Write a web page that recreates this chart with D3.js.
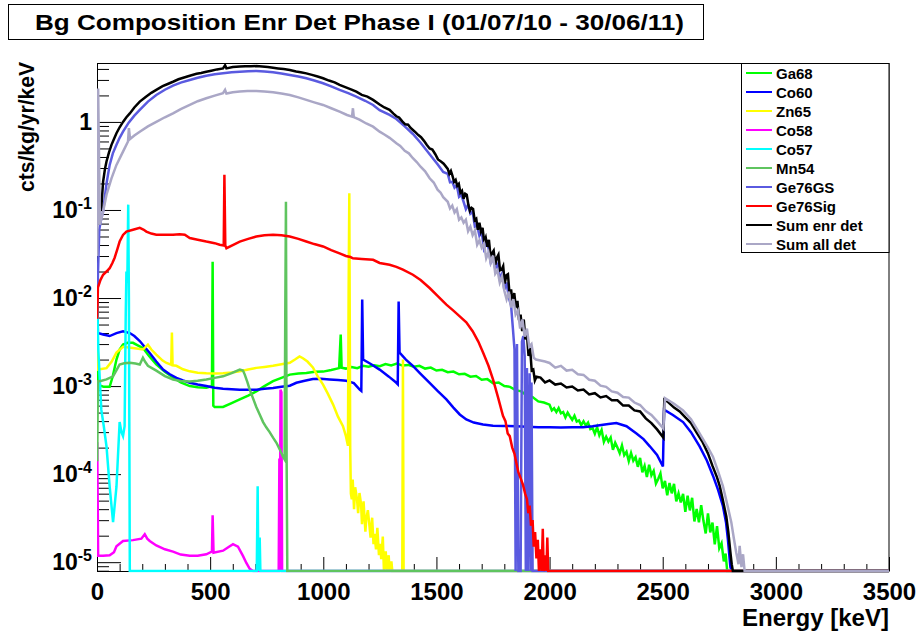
<!DOCTYPE html>
<html><head><meta charset="utf-8">
<script src="https://cdn.jsdelivr.net/npm/d3@7"></script>
<style>
html,body{margin:0;padding:0;background:#fff;}
svg text{font-family:"Liberation Sans",Arial,Helvetica,sans-serif;font-weight:bold;fill:#000;}
</style></head><body>
<svg id="chart" width="917" height="636"></svg>
<script>
// Spectra: [energy keV, cts/kg/yr/keV]; 0 means empty bin (drawn on the lower frame edge)
const ga68 = [[1,0.004],[4,0.00105],[12,0.00102],[30,0.00098],[56,0.00098],[70,0.0013],[86,0.002],[100,0.0026],[115,0.00296],[135,0.0031],[159,0.0031],[180,0.0029],[203,0.0027],[230,0.0022],[262,0.00176],[300,0.00145],[336,0.00125],[370,0.0011],[410,0.001],[445,0.00097],[483,0.00096],[508,0.001],[511,0.0259],[514,0.0006],[520,0.00058],[557,0.00058],[595,0.00064],[631,0.000705],[668,0.00078],[704,0.00087],[740,0.001],[778,0.00114],[815,0.00124],[852,0.00135],[890,0.00139],[925,0.00141],[962,0.00145],[999,0.00146],[1035,0.00152],[1070,0.0016],[1077,0.00385],[1081,0.00162],[1100,0.00158],[1125,0.00165],[1150,0.0016],[1175,0.0017],[1200,0.00166],[1225,0.00172],[1250,0.00168],[1275,0.00178],[1300,0.00172],[1325,0.0018],[1350,0.00171],[1375,0.00174],[1400,0.00166],[1425,0.0017],[1450,0.00158],[1475,0.00162],[1500,0.0015],[1525,0.00153],[1550,0.00144],[1575,0.00146],[1600,0.00136],[1625,0.00138],[1650,0.00128],[1675,0.0013],[1700,0.00118],[1725,0.0012],[1750,0.00108],[1775,0.0011],[1800,0.001],[1825,0.00098],[1850,0.0009],[1875,0.00087],[1900,0.00078],[1925,0.00075],[1950,0.00067],[1975,0.00065],[2000,0.000615],[2010,0.00053],[2020,0.00056],[2030,0.000507],[2040,0.000562],[2050,0.000491],[2060,0.000507],[2070,0.000441],[2080,0.000499],[2090,0.000453],[2100,0.000414],[2110,0.00046],[2120,0.000396],[2130,0.000408],[2140,0.000361],[2150,0.000399],[2160,0.000357],[2170,0.000385],[2180,0.000325],[2190,0.000334],[2200,0.000288],[2210,0.000342],[2220,0.000276],[2230,0.000317],[2240,0.000233],[2250,0.000266],[2260,0.000234],[2270,0.00026],[2280,0.000189],[2290,0.000227],[2300,0.0002],[2310,0.000173],[2320,0.000212],[2330,0.000164],[2340,0.000179],[2350,0.000141],[2360,0.000174],[2370,0.000142],[2380,0.000156],[2390,0.000121],[2400,0.000153],[2410,0.000105],[2420,0.000124],[2430,0.0000927],[2440,0.000128],[2450,0.0000969],[2460,0.000109],[2470,0.0000781],[2480,0.000088],[2490,0.000102],[2500,0.0000688],[2510,0.0000836],[2520,0.0000576],[2530,0.0000794],[2540,0.0000605],[2550,0.0000775],[2560,0.000049],[2570,0.0000605],[2580,0.0000477],[2590,0.0000596],[2600,0.0000374],[2610,0.0000569],[2620,0.0000387],[2630,0.0000539],[2640,0.000029],[2650,0.0000403],[2660,0.0000284],[2670,0.0000443],[2680,0.0000295],[2690,0.0000212],[2700,0.0000358],[2710,0.0000218],[2720,0.0000282],[2730,0.0000159],[2740,0.0000256],[2750,0.0000144],[2760,0.0000164],[2770,0.0000102],[2778,0.0000125],[2785,0],[3500,0]];

const co60 = [[1,0.012],[4,0.004],[27,0.00385],[56,0.0037],[86,0.004],[115,0.00418],[145,0.004],[165,0.0037],[189,0.00325],[210,0.0028],[233,0.00238],[262,0.0019],[292,0.00154],[320,0.00137],[351,0.00124],[380,0.00116],[410,0.00109],[445,0.00104],[483,0.001],[520,0.00096],[557,0.00093],[595,0.00092],[631,0.00091],[668,0.00091],[704,0.00091],[740,0.00093],[778,0.00095],[815,0.00098],[852,0.00101],[881,0.00109],[918,0.00115],[954,0.0012],[990,0.00121],[1028,0.00119],[1065,0.00117],[1102,0.00115],[1135,0.00108],[1161,0.00091],[1168,0.00088],[1172,0.0096],[1176,0.002],[1210,0.00178],[1249,0.00154],[1290,0.00128],[1323,0.00109],[1329,0.00105],[1333,0.0091],[1337,0.0024],[1365,0.002],[1396,0.0017],[1430,0.00138],[1470,0.00109],[1505,0.00088],[1544,0.000705],[1575,0.00057],[1603,0.000476],[1632,0.000418],[1665,0.000385],[1706,0.000367],[1750,0.000355],[1800,0.000352],[1853,0.00035],[1900,0.000345],[1950,0.00034],[2000,0.00034],[2050,0.000338],[2100,0.00034],[2148,0.00034],[2190,0.00035],[2221,0.00036],[2260,0.00037],[2295,0.00038],[2340,0.00035],[2384,0.00029],[2415,0.00025],[2443,0.000207],[2475,0.000165],[2501,0.000122],[2506,0.00054],[2545,0.00047],[2590,0.00039],[2625,0.0003],[2663,0.000207],[2695,0.000143],[2722,0.000096],[2745,0.000066],[2766,0.0000435],[2780,0.000028],[2788,0.0000182],[2799,0.0000088],[2805,0],[3500,0]];

const zn65 = [[1,0.003],[4,0.00154],[42,0.0016],[65,0.0019],[86,0.0024],[115,0.0028],[159,0.0027],[203,0.0026],[225,0.00296],[240,0.0026],[262,0.00228],[290,0.00195],[307,0.00183],[328,0.00175],[331,0.00405],[334,0.00172],[351,0.0017],[380,0.00155],[410,0.00147],[445,0.00142],[483,0.0014],[520,0.00139],[557,0.0014],[595,0.00143],[631,0.00147],[668,0.00154],[704,0.00161],[740,0.00165],[778,0.0017],[815,0.00177],[852,0.00184],[875,0.002],[895,0.00217],[910,0.00207],[930,0.0019],[954,0.00163],[975,0.0013],[999,0.00104],[1020,0.00082],[1043,0.00062],[1065,0.00045],[1087,0.00035],[1100,0.00027],[1109,0.00021],[1112,0.0125],[1115,0.155],[1119,0.0002],[1122,0.00006],[1126,0.0000518],[1130,0.0000866],[1136,0.0000399],[1141,0.000071],[1149,0.000052],[1154,0.000036],[1160,0.000061],[1167,0.0000455],[1171,0.000027],[1178,0.000049],[1186,0.0000222],[1190,0.000031],[1197,0.000039],[1204,0.000026],[1209,0.000019],[1216,0.000032],[1222,0.000016],[1226,0.000021],[1233,0.000014],[1239,0.0000245],[1246,0.000012],[1252,0.0000162],[1256,0.0000108],[1263,0.0000195],[1268,0],[1276,0.0000133],[1281,0],[1289,0.000012],[1293,0],[1301,0.0000102],[1305,0],[1349,0],[1352,0.002],[1355,0],[3500,0]];

const co58 = [[1,0.00023],[5,0.0000118],[27,0.0000118],[56,0.000012],[75,0.000013],[86,0.0000152],[115,0.0000174],[159,0.0000178],[196,0.0000185],[211,0.0000208],[222,0.0000185],[233,0.0000174],[262,0.0000155],[300,0.000014],[336,0.0000132],[370,0.0000122],[410,0.0000118],[445,0.0000118],[483,0.0000123],[508,0.0000132],[511,0.0000342],[515,0.0000128],[557,0.0000135],[580,0.0000148],[601,0.000016],[623,0.000015],[645,0.0000118],[660,0.0000098],[675,0.0000084],[690,0],[803,0],[806,0.00015],[808,0],[811,0.00091],[815,0.00085],[818,0],[3500,0]];

const co57 = [[1,0.0095],[6,0.0025],[19,0.00054],[30,0.00035],[42,0.000206],[56,0.000072],[71,0.0000285],[86,0.000072],[100,0.00039],[108,0.0003],[115,0.00027],[122,0.00035],[127,0.0065],[130,0.02],[134,0.015],[138,0.115],[141,0.01],[145,0],[706,0],[710,0.000073],[713,0],[719,0.000019],[722,0],[3500,0]];

const mn54 = [[1,0.00014],[4,0.00113],[20,0.00115],[42,0.00119],[71,0.00129],[85,0.0015],[100,0.00176],[120,0.00182],[145,0.00184],[170,0.0018],[189,0.00176],[203,0.0021],[212,0.0019],[225,0.0017],[262,0.0015],[300,0.0013],[336,0.00119],[370,0.00114],[410,0.00113],[445,0.00115],[483,0.00119],[520,0.00124],[557,0.00129],[595,0.0014],[631,0.00154],[645,0.0015],[653,0.00135],[665,0.0011],[675,0.00091],[690,0.00072],[704,0.00058],[720,0.00047],[734,0.00039],[748,0.00034],[763,0.0003],[778,0.00026],[793,0.000227],[808,0.00019],[822,0.000158],[829,0.000147],[832,0.0065],[835,0.124],[838,0.00015],[841,0],[3500,0]];

const ge76GS = [[2,0.012],[10,0.06],[19,0.08],[27,0.096],[42,0.2],[56,0.325],[70,0.44],[86,0.549],[100,0.66],[115,0.776],[140,0.98],[165,1.18],[189,1.37],[225,1.7],[262,2.02],[300,2.32],[336,2.58],[370,2.8],[410,2.99],[445,3.18],[483,3.35],[520,3.48],[557,3.57],[595,3.66],[631,3.72],[668,3.76],[704,3.79],[740,3.74],[778,3.66],[815,3.55],[852,3.41],[890,3.28],[925,3.13],[960,2.95],[999,2.75],[1035,2.53],[1072,2.31],[1110,2.12],[1146,1.94],[1185,1.74],[1220,1.56],[1249,1.36],[1293,1.2],[1323,1.08],[1360,0.89],[1396,0.73],[1430,0.58],[1470,0.43],[1505,0.33],[1530,0.27],[1550,0.257],[1560,0.206],[1570,0.209],[1580,0.179],[1590,0.191],[1600,0.141],[1610,0.149],[1620,0.124],[1630,0.102],[1640,0.115],[1650,0.0906],[1660,0.0954],[1670,0.0645],[1680,0.0662],[1690,0.0509],[1700,0.0566],[1710,0.0363],[1720,0.0414],[1730,0.0373],[1740,0.0252],[1750,0.0287],[1760,0.0215],[1770,0.0252],[1780,0.0166],[1790,0.0189],[1800,0.0125],[1810,0.015],[1820,0.0101],[1830,0.0082],[1838,0.0045],[1845,0.0026],[1850,0],[1856,0.003],[1862,0],[1872,0],[1878,0.0032],[1884,0.0037],[1890,0.0022],[1895,0],[1900,0.0016],[1905,0],[1912,0.0014],[1917,0],[1920,0.0011],[1925,0],[3500,0]];

const ge76Sig = [[1,0.0058],[4,0.0131],[15,0.016],[27,0.0184],[42,0.02],[56,0.0218],[68,0.025],[78,0.0287],[90,0.036],[100,0.0438],[115,0.052],[130,0.0569],[159,0.0597],[189,0.0626],[205,0.06],[218,0.0569],[240,0.054],[262,0.0524],[300,0.0524],[336,0.0524],[365,0.053],[388,0.0524],[410,0.048],[445,0.046],[483,0.0438],[520,0.042],[542,0.0403],[560,0.0395],[563,0.251],[567,0.0395],[572,0.0368],[600,0.04],[631,0.0438],[668,0.047],[704,0.05],[740,0.0515],[778,0.0524],[815,0.0515],[852,0.05],[890,0.047],[925,0.0438],[960,0.041],[999,0.0385],[1035,0.035],[1072,0.0321],[1100,0.03],[1120,0.0292],[1131,0.0283],[1170,0.0278],[1220,0.0272],[1249,0.025],[1293,0.0239],[1323,0.0226],[1352,0.021],[1396,0.0184],[1430,0.016],[1470,0.013],[1505,0.0106],[1544,0.0084],[1575,0.0072],[1603,0.0062],[1632,0.0053],[1660,0.0042],[1685,0.0032],[1706,0.0024],[1730,0.0017],[1750,0.00119],[1772,0.00075],[1794,0.00046],[1805,0.0004],[1815,0.00029],[1824,0.00027],[1835,0.0002],[1845,0.00017],[1853,0.000135],[1862,0.000105],[1872,0.00009],[1883,0.000075],[1892,0.00006],[1900,0.000052],[1906,0.000036],[1912,0.000044],[1918,0.000026],[1925,0.00003],[1930,0.000015],[1936,0.000022],[1942,0.000011],[1948,0.000018],[1953,0],[1960,0.000014],[1965,0],[1970,0.000024],[1974,0],[1982,0.000012],[1986,0],[1990,0.000019],[1994,0],[3500,0]];

const sumEnr = [[3,0.085],[12,0.095],[19,0.106],[27,0.21],[35,0.29],[42,0.355],[53,0.45],[64,0.549],[75,0.64],[86,0.744],[100,0.87],[115,1],[130,1.13],[145,1.25],[165,1.46],[189,1.7],[215,1.92],[240,2.14],[262,2.31],[290,2.55],[310,2.68],[336,2.86],[360,3.05],[385,3.2],[410,3.35],[440,3.52],[460,3.6],[483,3.72],[505,3.82],[530,3.95],[557,4.05],[566,4.4],[572,4.06],[600,4.2],[631,4.25],[655,4.3],[680,4.28],[704,4.31],[730,4.25],[755,4.2],[778,4.12],[800,4.05],[825,3.98],[852,3.89],[880,3.74],[900,3.66],[925,3.56],[950,3.42],[975,3.28],[999,3.13],[1025,2.95],[1050,2.82],[1072,2.63],[1100,2.47],[1125,2.33],[1146,2.21],[1170,2.03],[1195,1.94],[1220,1.78],[1249,1.58],[1270,1.46],[1293,1.37],[1310,1.24],[1323,1.16],[1335,1.12],[1350,1.01],[1362,0.94],[1375,0.93],[1385,0.86],[1396,0.81],[1408,0.76],[1420,0.71],[1432,0.67],[1445,0.61],[1457,0.55],[1470,0.5],[1482,0.485],[1495,0.43],[1507,0.375],[1520,0.355],[1532,0.335],[1550,0.293],[1557,0.257],[1564,0.278],[1571,0.244],[1578,0.209],[1585,0.22],[1592,0.188],[1599,0.198],[1606,0.157],[1613,0.165],[1620,0.134],[1627,0.153],[1634,0.149],[1641,0.115],[1648,0.098],[1655,0.106],[1662,0.103],[1669,0.0764],[1676,0.0794],[1683,0.0597],[1690,0.0716],[1697,0.0566],[1704,0.0628],[1711,0.0431],[1718,0.0484],[1725,0.0383],[1732,0.0459],[1739,0.0299],[1746,0.0323],[1753,0.0345],[1760,0.0239],[1767,0.0287],[1774,0.031],[1781,0.0207],[1788,0.021],[1795,0.023],[1802,0.0146],[1809,0.0182],[1816,0.0187],[1823,0.0112],[1830,0.0125],[1837,0.0084],[1844,0.0114],[1851,0.0078],[1858,0.0093],[1865,0.0056],[1872,0.0065],[1879,0.0042],[1886,0.0057],[1893,0.0034],[1900,0.0039],[1907,0.0022],[1914,0.0027],[1921,0.0015],[1928,0.00154],[1935,0.00116],[1942,0.00128],[1960,0.00125],[1980,0.0011],[2000,0.00116],[2025,0.00104],[2050,0.00107],[2075,0.000964],[2100,0.00099],[2125,0.00089],[2150,0.000915],[2175,0.000803],[2200,0.00083],[2225,0.000743],[2250,0.00077],[2275,0.00069],[2300,0.00069],[2325,0.0006],[2350,0.0006],[2375,0.00053],[2400,0.000515],[2425,0.00043],[2450,0.00038],[2475,0.000322],[2503,0.00026],[2507,0.0007],[2520,0.00067],[2550,0.00057],[2575,0.000515],[2600,0.00044],[2625,0.00038],[2650,0.000297],[2675,0.000235],[2700,0.000172],[2720,0.000124],[2740,0.000092],[2752,0.000073],[2765,0.0000518],[2781,0.000033],[2790,0.0000219],[2799,0.000013],[2805,0.0000095],[2810,0],[3500,0]];

const sumAll = [[1,0.03],[5,2.4],[13,0.068],[27,0.096],[42,0.149],[64,0.229],[86,0.325],[115,0.46],[137,0.6],[141,0.85],[146,0.64],[165,0.7],[189,0.775],[225,0.89],[262,1],[300,1.13],[336,1.25],[370,1.4],[410,1.56],[445,1.72],[483,1.86],[520,1.99],[557,2.12],[566,2.31],[572,2.1],[600,2.17],[631,2.21],[665,2.24],[704,2.25],[740,2.22],[778,2.17],[815,2.1],[852,2.02],[890,1.9],[925,1.78],[960,1.67],[999,1.56],[1035,1.43],[1072,1.31],[1105,1.2],[1127,1.15],[1131,1.43],[1135,1.13],[1160,1.06],[1190,0.96],[1220,0.884],[1249,0.776],[1270,0.72],[1293,0.66],[1323,0.573],[1340,0.535],[1360,0.47],[1378,0.44],[1396,0.387],[1413,0.35],[1430,0.31],[1450,0.275],[1470,0.229],[1488,0.205],[1505,0.17],[1518,0.158],[1530,0.14],[1550,0.124],[1560,0.104],[1570,0.112],[1580,0.0935],[1590,0.102],[1600,0.0774],[1610,0.0824],[1620,0.0716],[1630,0.0774],[1640,0.0575],[1650,0.0645],[1660,0.0518],[1670,0.0584],[1680,0.0403],[1690,0.0452],[1700,0.0373],[1710,0.0414],[1720,0.0283],[1730,0.033],[1740,0.0252],[1750,0.0303],[1760,0.0189],[1770,0.0207],[1780,0.015],[1790,0.0175],[1800,0.0121],[1810,0.0097],[1820,0.0118],[1830,0.0078],[1840,0.0097],[1850,0.0065],[1860,0.0072],[1870,0.0045],[1880,0.0057],[1890,0.00365],[1900,0.0045],[1910,0.0028],[1920,0.003],[1930,0.0021],[1940,0.002],[1960,0.00195],[1980,0.0019],[2000,0.00183],[2025,0.00162],[2050,0.0017],[2075,0.0015],[2100,0.00153],[2125,0.00136],[2150,0.00134],[2175,0.00118],[2200,0.00115],[2225,0.00101],[2250,0.00098],[2275,0.00087],[2300,0.00084],[2325,0.00075],[2350,0.00074],[2375,0.00065],[2400,0.00061],[2425,0.00052],[2450,0.00047],[2475,0.0004],[2503,0.00033],[2510,0.00073],[2550,0.00063],[2590,0.00053],[2625,0.00042],[2663,0.00029],[2700,0.0002],[2722,0.000158],[2745,0.000107],[2766,0.000073],[2785,0.0000455],[2803,0.0000285],[2815,0.0000182],[2825,0.0000128],[2835,0.0000095],[2840,0.0000153],[2848,0.0000088],[2855,0.0000123],[2862,0],[3500,0]];

const seriesNames = ["Ga68","Co60","Zn65","Co58","Co57","Mn54","Ge76GS","Ge76Sig","Sum enr det","Sum all det"];
const seriesData = [ga68, co60, zn65, co58, co57, mn54, ge76GS, ge76Sig, sumEnr, sumAll];
const seriesColors = ["#00ff00","#0000ff","#ffff00","#ff00ff","#00ffff","#5fc45f","#5a5ae0","#ff0000","#000000","#aaa7c6"];

const xTickValues = [0,500,1000,1500,2000,2500,3000,3500];
const yTickValues = [1e-5,1e-4,1e-3,1e-2,1e-1,1];
const titleText = "Bg Composition Enr Det Phase I (01/07/10 - 30/06/11)";
const xTitle = "Energy [keV]";
const yTitle = "cts/kg/yr/keV";

// ---- layout ----
const W = 917, H = 636;
const plot = {left: 97, right: 889, top: 63, bottom: 571};
const yMin = 7.94e-6, yMax = 4.67;

const x = d3.scaleLinear().domain([0, 3500]).range([plot.left, plot.right]);
const y = d3.scaleLog().domain([yMin, yMax]).range([plot.bottom, plot.top]);

const svg = d3.select("#chart");
svg.append("rect").attr("width", W).attr("height", H).attr("fill", "#fff");

// title pave
svg.append("rect").attr("x", 8.5).attr("y", 4.5).attr("width", 695).attr("height", 35)
  .attr("fill", "#fff").attr("stroke", "#000").attr("stroke-width", 1);
svg.append("text").attr("x", 35).attr("y", 30).attr("font-size", 22.5)
  .attr("textLength", 649).attr("lengthAdjust", "spacingAndGlyphs").text(titleText);

// frame
svg.append("rect").attr("x", plot.left + 0.5).attr("y", plot.top + 0.5)
  .attr("width", plot.right - plot.left - 0.5).attr("height", plot.bottom - plot.top)
  .attr("fill", "#fff").attr("stroke", "#000").attr("stroke-width", 1);

// x axis: major ticks with labels, minor ticks every 100 keV
const xMinor = d3.range(100, 3500, 100).filter(v => v % 500 !== 0);
const gxMinor = svg.append("g").attr("transform", `translate(0,${plot.bottom})`)
  .call(d3.axisBottom(x).tickValues(xMinor).tickSize(-7).tickFormat(""));
const gx = svg.append("g").attr("transform", `translate(0,${plot.bottom})`)
  .call(d3.axisBottom(x).tickValues(xTickValues).tickSize(-14).tickPadding(12).tickFormat(d3.format("d")));
[gx, gxMinor].forEach(g => { g.select(".domain").remove(); g.selectAll("line").attr("stroke", "#000"); });
gx.attr("font-size", 24).attr("font-family", null);

// y axis (log): decades labelled as powers of ten, minor ticks 2..9
const yMinor = [];
for (let e = -6; e <= 0; e++) for (let k = 2; k <= 9; k++) {
  const v = k * Math.pow(10, e);
  if (v > yMin && v < yMax) yMinor.push(v);
}
const gyMinor = svg.append("g").attr("transform", `translate(${plot.left},0)`)
  .call(d3.axisLeft(y).tickValues(yMinor).tickSize(-12).tickFormat(""));
const gy = svg.append("g").attr("transform", `translate(${plot.left},0)`)
  .call(d3.axisLeft(y).tickValues(yTickValues).tickSize(-24).tickPadding(5).tickFormat(""));
[gy, gyMinor].forEach(g => { g.select(".domain").remove(); g.selectAll("line").attr("stroke", "#000"); });
gy.attr("font-size", 23).attr("font-family", null);
gy.selectAll(".tick text").each(function(d) {
  const t = d3.select(this);
  const p = Math.round(Math.log10(d));
  if (p === 0) { t.text("1"); return; }
  t.append("tspan").text("10");
  t.append("tspan").attr("dy", -9).attr("font-size", 16).text(String(p));
});

// axis titles
svg.append("text").attr("x", plot.right).attr("y", 626).attr("text-anchor", "end")
  .attr("font-size", 24).attr("textLength", 147).attr("lengthAdjust", "spacingAndGlyphs").text(xTitle);
svg.append("text").attr("transform", "translate(34,62) rotate(-90)").attr("text-anchor", "end")
  .attr("font-size", 22).attr("textLength", 130).attr("lengthAdjust", "spacingAndGlyphs").text(yTitle);

// histograms
svg.append("defs").append("clipPath").attr("id", "plotClip").append("rect")
  .attr("x", plot.left).attr("y", plot.top).attr("width", plot.right - plot.left)
  .attr("height", plot.bottom - plot.top + 1.5);
const line = d3.line().x(d => x(d[0])).y(d => y(Math.min(Math.max(d[1], yMin), yMax * 10)));
const gLines = svg.append("g").attr("clip-path", "url(#plotClip)");
seriesData.forEach((data, i) => {
  gLines.append("path").datum(data).attr("d", line)
    .attr("fill", "none").attr("stroke", seriesColors[i]).attr("stroke-width", 2.5)
    .attr("stroke-linejoin", "miter");
});

// legend
const lg = svg.append("g");
lg.append("rect").attr("x", 741.5).attr("y", 63.5).attr("width", 147.5).attr("height", 189)
  .attr("fill", "#fff").attr("stroke", "#000").attr("stroke-width", 1);
seriesNames.forEach((name, i) => {
  const cy = 73 + i * 19;
  lg.append("line").attr("x1", 746).attr("x2", 772).attr("y1", cy).attr("y2", cy)
    .attr("stroke", seriesColors[i]).attr("stroke-width", 2);
  lg.append("text").attr("x", 776).attr("y", cy + 5.5).attr("font-size", 15).text(name);
});
</script>
</body></html>
